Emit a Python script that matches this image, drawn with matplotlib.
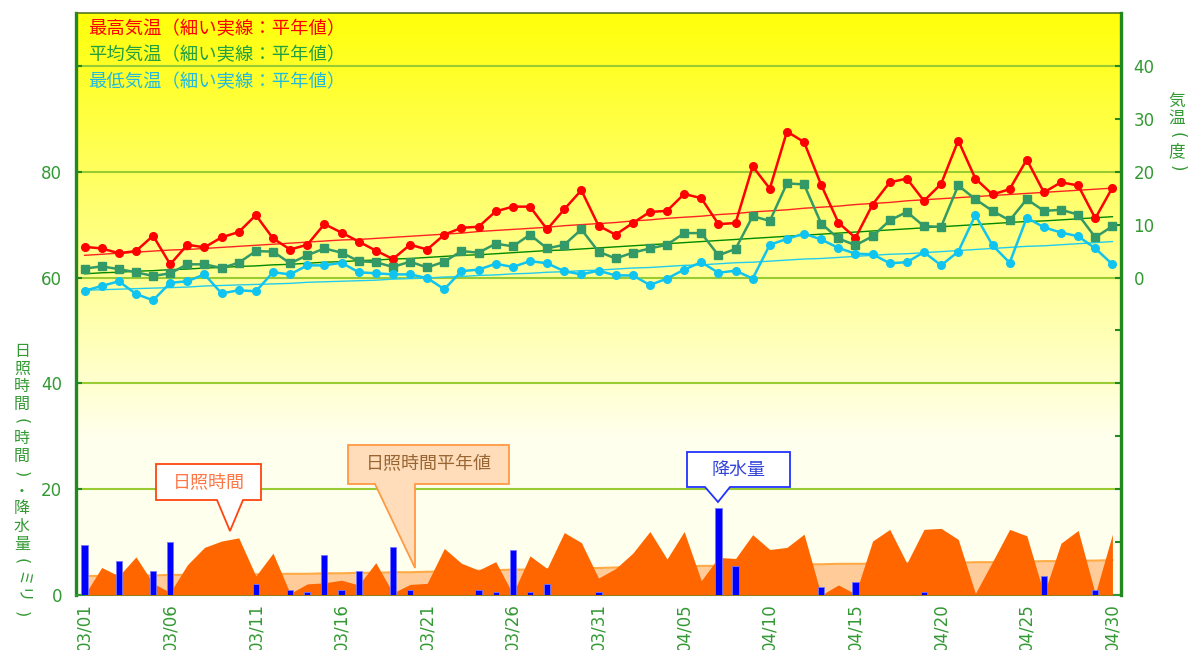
import numpy as np
import matplotlib
matplotlib.use("Agg")
import matplotlib.pyplot as plt
from matplotlib.patches import Polygon

plt.rcParams['font.family'] = ['Noto Sans CJK JP', 'DejaVu Sans']

# ---------------- data ----------------
tmax = [5.8, 5.5, 4.6, 5.0, 7.9, 2.5, 6.2, 5.7, 7.6, 8.6,
        11.8, 7.4, 5.3, 6.2, 10.1, 8.5, 6.8, 5.1, 3.5, 6.2,
        5.3, 8.1, 9.4, 9.6, 12.5, 13.4, 13.4, 9.1, 12.9, 16.5,
        9.8, 8.1, 10.3, 12.4, 12.6, 15.8, 15.0, 10.1, 10.3, 21.0,
        16.8, 27.6, 25.6, 17.5, 10.4, 7.5, 13.8, 18.0, 18.7, 14.5,
        17.7, 25.9, 18.7, 15.7, 16.7, 22.3, 16.1, 18.0, 17.4, 11.2,
        17.0]
tavg = [1.7, 2.1, 1.6, 1.0, 0.3, 0.8, 2.5, 2.5, 1.8, 2.8,
        5.0, 4.9, 2.7, 4.2, 5.5, 4.7, 3.1, 2.9, 2.0, 3.0,
        1.9, 3.0, 5.0, 4.7, 6.4, 5.9, 8.1, 5.5, 6.2, 9.1,
        4.9, 3.6, 4.7, 5.5, 6.2, 8.4, 8.4, 4.2, 5.4, 11.6,
        10.7, 17.8, 17.6, 10.2, 7.4, 6.1, 7.8, 10.8, 12.4, 9.7,
        9.6, 17.4, 14.8, 12.6, 10.8, 14.8, 12.6, 12.8, 11.9, 7.6,
        9.7]
tmin = [-2.5, -1.6, -0.7, -3.1, -4.3, -1.0, -0.7, 0.6, -3.0, -2.4,
        -2.6, 1.0, 0.6, 2.3, 2.3, 2.8, 1.0, 0.8, 0.6, 0.6,
        -0.1, -2.2, 1.2, 1.5, 2.6, 2.0, 3.1, 2.7, 1.2, 0.6,
        1.3, 0.4, 0.4, -1.4, -0.2, 1.5, 2.9, 0.9, 1.3, -0.2,
        6.2, 7.3, 8.3, 7.2, 5.6, 4.5, 4.4, 2.7, 2.9, 4.8,
        2.3, 4.9, 11.8, 6.1, 2.8, 11.3, 9.5, 8.5, 7.8, 5.5,
        2.5]
tmax_norm = [4.2, 4.4, 4.6, 4.8, 5.0, 5.2, 5.3, 5.5, 5.7, 5.9,
             6.1, 6.3, 6.5, 6.7, 6.9, 7.1, 7.2, 7.4, 7.6, 7.8,
             8.0, 8.2, 8.4, 8.7, 8.9, 9.1, 9.3, 9.5, 9.8, 10.0,
             10.2, 10.4, 10.7, 10.9, 11.2, 11.4, 11.6, 11.9, 12.1, 12.4,
             12.6, 12.8, 13.1, 13.3, 13.5, 13.8, 14.0, 14.2, 14.5, 14.7,
             14.9, 15.1, 15.3, 15.5, 15.7, 15.9, 16.1, 16.3, 16.5, 16.7,
             16.9]
tavg_norm = [0.7, 0.9, 1.0, 1.2, 1.3, 1.5, 1.6, 1.8, 1.9, 2.1,
             2.2, 2.4, 2.5, 2.7, 2.9, 3.0, 3.2, 3.3, 3.5, 3.6,
             3.8, 4.0, 4.2, 4.3, 4.5, 4.7, 4.9, 5.1, 5.2, 5.4,
             5.6, 5.8, 6.0, 6.2, 6.4, 6.6, 6.8, 7.0, 7.2, 7.4,
             7.6, 7.8, 8.0, 8.2, 8.4, 8.6, 8.8, 9.0, 9.2, 9.4,
             9.6, 9.8, 10.0, 10.2, 10.4, 10.6, 10.7, 10.9, 11.1, 11.3,
             11.5]
tmin_norm = [-2.4, -2.3, -2.2, -2.1, -2.0, -1.9, -1.8, -1.6, -1.5, -1.4,
             -1.3, -1.2, -1.1, -0.9, -0.8, -0.7, -0.6, -0.5, -0.3, -0.2,
             -0.1, 0.1, 0.2, 0.4, 0.5, 0.7, 0.8, 1.0, 1.1, 1.3,
             1.4, 1.6, 1.8, 1.9, 2.1, 2.3, 2.4, 2.6, 2.8, 2.9,
             3.1, 3.3, 3.5, 3.6, 3.8, 4.0, 4.2, 4.4, 4.5, 4.7,
             4.9, 5.1, 5.3, 5.5, 5.7, 5.9, 6.0, 6.2, 6.4, 6.6,
             6.8]
sunshine = [0.0, 5.2, 3.6, 7.2, 2.2, 0.5, 5.7, 9.0, 10.2, 10.8,
            3.6, 7.9, 0.3, 2.1, 2.3, 2.8, 1.9, 6.1, 0.4, 2.0,
            2.2, 8.8, 6.0, 4.7, 6.3, 0.2, 7.4, 5.0, 11.8, 9.9,
            3.2, 5.0, 7.9, 12.0, 6.8, 12.0, 2.7, 7.1, 6.9, 11.4,
            8.6, 9.0, 11.5, 0.0, 1.9, 0.2, 10.2, 12.4, 6.0, 12.4,
            12.6, 10.5, 0.3, 6.3, 12.4, 11.2, 0.2, 9.8, 12.2, 0.2,
            11.5]
sunshine_norm = [3.6, 3.6, 3.7, 3.7, 3.7, 3.8, 3.8, 3.8, 3.9, 3.9,
                 3.9, 4.0, 4.0, 4.0, 4.1, 4.1, 4.2, 4.2, 4.3, 4.3,
                 4.4, 4.4, 4.5, 4.6, 4.7, 4.8, 4.8, 4.9, 5.0, 5.1,
                 5.1, 5.2, 5.3, 5.3, 5.4, 5.4, 5.5, 5.5, 5.6, 5.6,
                 5.7, 5.7, 5.8, 5.8, 5.9, 5.9, 5.9, 6.0, 6.0, 6.0,
                 6.1, 6.1, 6.2, 6.2, 6.3, 6.3, 6.4, 6.4, 6.5, 6.5,
                 6.6]
precip = [9.5, 0, 6.5, 0, 4.5, 10.0, 0, 0, 0, 0,
          2.0, 0, 1.0, 0.5, 7.5, 1.0, 4.5, 0, 9.0, 1.0,
          0, 0, 0, 1.0, 0.5, 8.5, 0.5, 2.0, 0, 0,
          0.5, 0, 0, 0, 0, 0, 0, 16.5, 5.5, 0,
          0, 0, 0, 1.5, 0, 2.5, 0, 0, 0, 0.5,
          0, 0, 0, 0, 0, 0, 3.5, 0, 0, 1.0,
          0]
xtick_labels = ["03/01", "03/06", "03/11", "03/16", "03/21", "03/26", "03/31",
                "04/05", "04/10", "04/15", "04/20", "04/25", "04/30"]
left_ticks = [0, 20, 40, 60, 80, 100]
left_ticklabels = ["0", "20", "40", "60", "80", ""]
right_ticks = [-50, -40, -30, -20, -10, 0, 10, 20, 30, 40]
right_ticklabels = ["", "", "", "", "", "0", "10", "20", "30", "40"]

# ---------------- figure ----------------
W, H = 1189, 650
fig = plt.figure(figsize=(W / 100, H / 100), dpi=100)
L, R, T, B = 76, 1121, 13, 595
ax = fig.add_axes([L / W, 1 - B / H, (R - L) / W, (B - T) / H])
ax2 = ax.twinx()

def fpx(px, py):
    return (px / W, 1 - py / H)

# background gradient (yellow at top -> cream at bottom)
n = 300
t = np.linspace(1, 0, n)               # top row first
ypix = B - t * (B - T)
blue = np.clip(10 + (ypix - T) * 0.534, 0, 238) / 255.0
img = np.ones((n, 1, 3))
img[:, 0, 2] = blue
ax.imshow(img, extent=[0, 1, 0, 1], transform=ax.transAxes, aspect='auto',
          zorder=0, interpolation='bilinear')

x = np.arange(len(tmax))

# sunshine / precipitation on left axis
ax.fill_between(x, 0, sunshine_norm, color='#FFCC99', lw=0, zorder=2)
ax.plot(x, sunshine_norm, color='#FFAA44', lw=1.5, zorder=2.1)
ax.fill_between(x, 0, sunshine, color='#FF6600', lw=0, zorder=3)
ax.bar(x, precip, width=0.36, color='#0000FF', edgecolor='#7777FF', lw=0.6, zorder=4)

ax.set_xlim(-0.5, len(tmax) - 0.5)
ax.set_ylim(0, 110)
ax.set_yticks(left_ticks)
ax.set_yticklabels(left_ticklabels, fontfamily='DejaVu Sans')
ax.set_axisbelow(True)
ax.yaxis.grid(True, color='#99CC33', lw=1.5, zorder=0.5)

ax.set_xticks(np.arange(0, len(tmax), 5))
ax.set_xticklabels(xtick_labels, rotation=90, fontfamily='DejaVu Sans', va='top')
ax.set_xticks(np.arange(4.5, len(tmax) - 1, 5), minor=True)
ax.tick_params(axis='x', which='major', length=0, pad=6, labelsize=12, labelcolor='#339933')
ax.tick_params(axis='x', which='minor', length=4, width=1.2, direction='in', color='#339933')
ax.tick_params(axis='y', direction='in', length=4, width=1.5, color='#228822',
               labelsize=12, labelcolor='#339933', pad=10)

# temperatures on right axis
ax2.plot(x, tmax_norm, color='#FF2222', lw=1.0, zorder=3)
ax2.plot(x, tavg_norm, color='#008800', lw=1.0, zorder=3)
ax2.plot(x, tmin_norm, color='#22CCEE', lw=1.0, zorder=3)
ax2.plot(x, tmax, color='#FF0000', lw=1.8, marker='o', ms=5.5, zorder=4)
ax2.plot(x, tavg, color='#339966', lw=1.8, marker='s', ms=5.2, zorder=4)
ax2.plot(x, tmin, color='#11C4F0', lw=1.8, marker='o', ms=5.5, zorder=4)
ax2.set_ylim(-60, 50)
ax2.set_yticks(right_ticks)
ax2.set_yticklabels(right_ticklabels, fontfamily='DejaVu Sans')
ax2.tick_params(axis='y', direction='in', length=4, width=1.5, color='#228822',
                labelsize=12, labelcolor='#339933', pad=9)

# spines
for s in ['left', 'top', 'bottom']:
    ax2.spines[s].set_visible(False)
ax.spines['right'].set_visible(False)
ax.spines['left'].set_color('#228822'); ax.spines['left'].set_linewidth(2.4)
ax2.spines['right'].set_color('#228822'); ax2.spines['right'].set_linewidth(2.4)
ax.spines['top'].set_color('#557722'); ax.spines['top'].set_linewidth(1.2)
ax.spines['bottom'].set_color('#339933'); ax.spines['bottom'].set_linewidth(1.5)

# legend-like texts
legend_items = [("最高気温（細い実線：平年値）", '#FF0000', 29),
                ("平均気温（細い実線：平年値）", '#22A040', 55.5),
                ("最低気温（細い実線：平年値）", '#22BBDD', 82.5)]
for txt, col, yy in legend_items:
    fig.text(*fpx(88, yy), txt, color=col, fontsize=13.2, va='center', ha='left')

# vertical axis titles (vertical writing: brackets and katakana turned)
def vtext(chars, cx, y0, step, color, size):
    for i, ch in enumerate(chars):
        pos = fpx(cx, y0 + i * step)
        if ch in "（）":
            fig.text(*pos, "(" if ch == "（" else ")", color=color, fontsize=size,
                     ha='center', va='center', rotation=-90, fontfamily='DejaVu Sans')
        else:
            rot = -90 if ch in "ミリ" else 0
            fig.text(*pos, ch, color=color, fontsize=size,
                     ha='center', va='center', rotation=rot)

vtext("日照時間（時間）・降水量（ミリ）", 22, 351.5, 17.5, '#339933', 11.5)
vtext("気温（度）", 1177, 102, 16.5, '#339933', 12)

# callouts
def callout(pts, fc, ec, text, tc, tpos):
    poly = Polygon([fpx(px, py) for px, py in pts], closed=True, facecolor=fc,
                   edgecolor=ec, lw=1.3, transform=fig.transFigure, zorder=10)
    fig.add_artist(poly)
    fig.text(*fpx(*tpos), text, color=tc, fontsize=13, ha='center', va='center', zorder=11)

callout([(156, 464), (261, 464), (261, 500), (243, 500), (230, 531), (217, 500), (156, 500)],
        'white', '#FF4411', "日照時間", '#FF7744', (208.5, 482))
callout([(348, 445), (509, 445), (509, 484), (415, 484), (415, 568), (375, 484), (348, 484)],
        '#FFDDBB', '#FF9944', "日照時間平年値", '#996633', (428.5, 464.5))
callout([(687, 452), (790, 452), (790, 487), (730, 487), (718, 502), (705, 487), (687, 487)],
        'white', '#2233FF', "降水量", '#3344DD', (738.5, 469.5))

fig.savefig("out.png", dpi=100)
